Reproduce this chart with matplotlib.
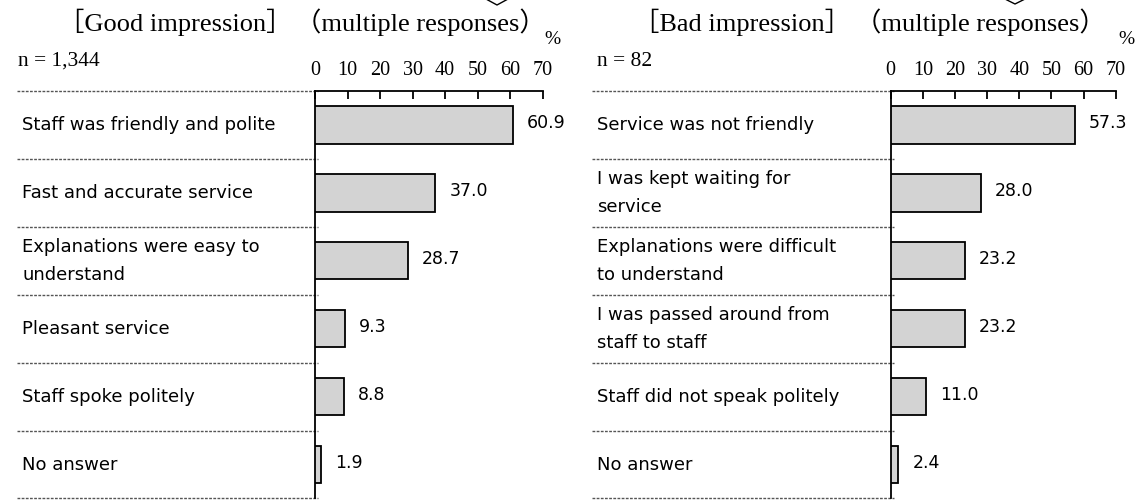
import matplotlib
matplotlib.use("Agg")
import matplotlib.pyplot as plt
from matplotlib.lines import Line2D

# ---- data ----
good_labels = ["Staff was friendly and polite",
               "Fast and accurate service",
               "Explanations were easy to\nunderstand",
               "Pleasant service",
               "Staff spoke politely",
               "No answer"]
good_values = [60.9, 37.0, 28.7, 9.3, 8.8, 1.9]

bad_labels = ["Service was not friendly",
              "I was kept waiting for\nservice",
              "Explanations were difficult\nto understand",
              "I was passed around from\nstaff to staff",
              "Staff did not speak politely",
              "No answer"]
bad_values = [57.3, 28.0, 23.2, 23.2, 11.0, 2.4]

titles = ["［Good impression］", "［Bad impression］"]
subtitle = "（multiple responses）"
n_texts = ["n = 1,344", "n = 82"]
x_ticks = [0, 10, 20, 30, 40, 50, 60, 70]

W, H = 1139, 501
SERIF = ["Liberation Serif", "Noto Sans CJK JP"]
SANS = ["DejaVu Sans"]

fig = plt.figure(figsize=(W / 100, H / 100), dpi=100)


def fx(px):
    return px / W


def fy(py):
    return 1 - py / H


def panel(x0, x1, label_x, sep_x0, labels, values):
    top, bottom = 91, 498.5
    ax = fig.add_axes([fx(x0), fy(bottom), fx(x1) - fx(x0), fy(top) - fy(bottom)])
    nrow = len(labels)
    rows = [i + 0.5 for i in range(nrow)]
    ax.barh(rows, values, height=0.55, color="#d3d3d3", edgecolor="black",
            linewidth=1.3, zorder=3)
    ax.set_xlim(0, 70)
    ax.set_ylim(nrow, 0)
    for s in ["right", "bottom"]:
        ax.spines[s].set_visible(False)
    for s in ["left", "top"]:
        ax.spines[s].set_linewidth(1.3)
    ax.xaxis.tick_top()
    ax.set_xticks(x_ticks)
    ax.tick_params(axis="x", direction="in", length=6, width=1.3, pad=8,
                   labelsize=14.5)
    ax.set_yticks([])
    for lab in ax.get_xticklabels():
        lab.set_family(SERIF)

    tr = ax.get_yaxis_transform()
    # dashed row separators
    for i in range(nrow + 1):
        ax.plot([(sep_x0 - x0) / (x1 - x0), 3.0 / (x1 - x0)], [i, i],
                transform=tr, color="#555555", linewidth=1.0,
                linestyle=(0, (2, 1)), clip_on=False, zorder=1)
    for r, lab, v in zip(rows, labels, values):
        ax.text((label_x - x0) / (x1 - x0), r, lab, transform=tr,
                ha="left", va="center", fontsize=13, family=SANS,
                linespacing=1.7)
        ax.annotate(f"{v:.1f}", (v, r - 0.03), xytext=(10, 0),
                    textcoords="offset points", ha="left", va="center",
                    fontsize=12.5, family=SANS)
    return ax


panel(315, 542.7, 22, 17, good_labels, good_values)
panel(890.7, 1115.7, 597, 592, bad_labels, bad_values)

# headers
fig.text(fx(58), fy(22), titles[0], ha="left", va="center", fontsize=19, family=SERIF)
fig.text(fx(295), fy(22), subtitle, ha="left", va="center", fontsize=19, family=SERIF)
fig.text(fx(633), fy(22), titles[1], ha="left", va="center", fontsize=19, family=SERIF)
fig.text(fx(855), fy(22), subtitle, ha="left", va="center", fontsize=19, family=SERIF)
fig.text(fx(552), fy(39), "%", ha="center", va="center", fontsize=14, family=SERIF)
fig.text(fx(1126), fy(40), "%", ha="center", va="center", fontsize=14, family=SERIF)
fig.text(fx(18), fy(61), n_texts[0], ha="left", va="center", fontsize=15.5, family=SERIF)
fig.text(fx(597), fy(61), n_texts[1], ha="left", va="center", fontsize=15.5, family=SERIF)

# small chevrons cut at top edge
for cx0, cx, cx1, cy in [(486, 497, 508, 5), (1005, 1015, 1025, 4)]:
    fig.add_artist(Line2D([fx(cx0), fx(cx), fx(cx1)], [fy(-1), fy(cy), fy(-1)],
                          color="black", linewidth=1.0))

fig.savefig("out.png", dpi=100)
